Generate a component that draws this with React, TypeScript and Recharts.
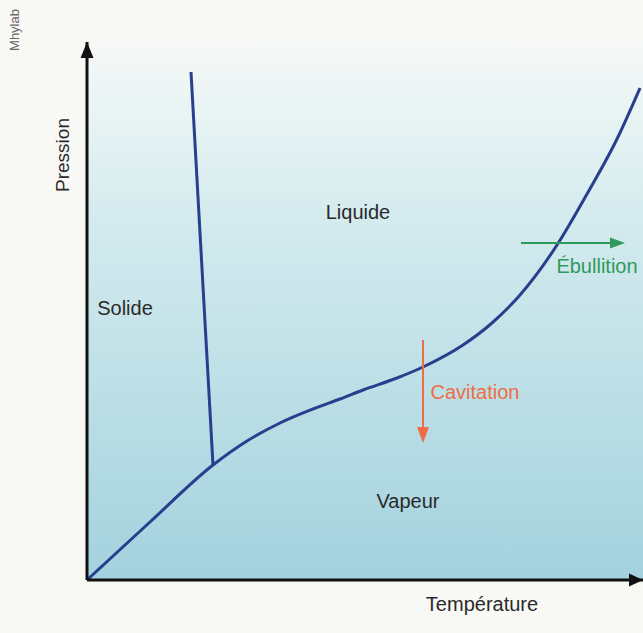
import React from 'react';
import { LineChart, Line, XAxis, YAxis, ReferenceArea, ReferenceDot } from 'recharts';

// Diagramme de phases (axes sans graduations, unités arbitraires)
const vaporT = [0, 63, 126, 160, 193, 226, 253, 276, 310, 336, 376, 405, 433, 470, 500, 530, 553];
const vaporP = [0, 58, 115, 139, 157, 171, 181, 190, 202, 213, 235, 257, 285, 335, 386, 441, 492];

const fusionT = [126, 104];
const fusionP = [115, 508];

const cavitationT = [336, 336];
const cavitationP = [240, 152];

const ebullitionT = [434, 524];
const ebullitionP = [337, 337];

const labels = [
  { text: 'Liquide', x: 271, y: 368, color: '#2a2a2a' },
  { text: 'Solide', x: 38, y: 272, color: '#2a2a2a' },
  { text: 'Vapeur', x: 321, y: 79, color: '#2a2a2a' },
  { text: 'Cavitation', x: 388, y: 188, color: '#ee6d45' },
  { text: 'Ébullition', x: 510, y: 314, color: '#2f9a5c' },
  { text: 'Température', x: 395, y: -24, color: '#2a2a2a' },
];

const toPoints = (xs: number[], ys: number[]) => xs.map((x, i) => ({ x, y: ys[i] }));

const vapor = toPoints(vaporT, vaporP);
const fusion = toPoints(fusionT, fusionP);
const cavitation = toPoints(cavitationT, cavitationP);
const ebullition = toPoints(ebullitionT, ebullitionP);

const FONT = '"Liberation Sans", Arial, sans-serif';
const CURVE = '#283f8e';

const textShape = (text: string, color: string, size: number, angle = 0) => (props: any) => {
  const { cx, cy } = props;
  return (
    <text
      x={cx}
      y={cy}
      fill={color}
      fontSize={size}
      fontFamily={FONT}
      textAnchor="middle"
      dominantBaseline="central"
      transform={angle ? `rotate(${angle} ${cx} ${cy})` : undefined}
    >
      {text}
    </text>
  );
};

const arrowHead = (dir: 'up' | 'down' | 'right', color: string, len: number, half: number) => (props: any) => {
  const { cx, cy } = props;
  let pts = '';
  if (dir === 'up') pts = `${cx - half},${cy + len} ${cx + half},${cy + len} ${cx},${cy}`;
  if (dir === 'down') pts = `${cx - half},${cy - len} ${cx + half},${cy - len} ${cx},${cy}`;
  if (dir === 'right') pts = `${cx - len},${cy - half} ${cx - len},${cy + half} ${cx},${cy}`;
  return <polygon points={pts} fill={color} />;
};

export default function App() {
  return (
    <div style={{ position: 'absolute', left: 0, top: 0, width: 643, height: 633, background: '#f8f8f4' }}>
      <LineChart width={643} height={633} margin={{ top: 42, right: 0, bottom: 23, left: 27 }}>
        <defs>
          <linearGradient id="bgFill" x1="0" y1="0" x2="0" y2="1">
            <stop offset="0%" stopColor="#f6f9f7" />
            <stop offset="35%" stopColor="#d2eaee" />
            <stop offset="100%" stopColor="#a3d2de" />
          </linearGradient>
        </defs>
        <XAxis
          type="number"
          dataKey="x"
          domain={[0, 556]}
          allowDataOverflow
          tick={false}
          tickLine={false}
          axisLine={{ stroke: '#111', strokeWidth: 3 }}
          height={30}
        />
        <YAxis
          type="number"
          dataKey="y"
          domain={[0, 538]}
          allowDataOverflow
          tick={false}
          tickLine={false}
          axisLine={{ stroke: '#111', strokeWidth: 3 }}
          width={60}
        />
        <ReferenceArea x1={0} x2={556} y1={0} y2={538} fill="url(#bgFill)" fillOpacity={1} stroke="none" />

        <Line data={vapor} dataKey="y" type="monotone" stroke={CURVE} strokeWidth={3} dot={false} isAnimationActive={false} />
        <Line data={fusion} dataKey="y" type="linear" stroke={CURVE} strokeWidth={3} dot={false} isAnimationActive={false} />
        <Line data={cavitation} dataKey="y" type="linear" stroke="#ee6d45" strokeWidth={2} dot={false} isAnimationActive={false} />
        <Line data={ebullition} dataKey="y" type="linear" stroke="#2f9a5c" strokeWidth={2} dot={false} isAnimationActive={false} />

        <ReferenceDot x={336} y={137} ifOverflow="visible" shape={arrowHead('down', '#ee6d45', 16, 6)} />
        <ReferenceDot x={538} y={337} ifOverflow="visible" shape={arrowHead('right', '#2f9a5c', 15, 5.5)} />
        <ReferenceDot x={556} y={0} ifOverflow="visible" shape={arrowHead('right', '#111', 14, 6.5)} />
        <ReferenceDot x={0} y={538} ifOverflow="visible" shape={arrowHead('up', '#111', 16, 6.5)} />

        {labels.map((l) => (
          <ReferenceDot key={l.text} x={l.x} y={l.y} ifOverflow="visible" shape={textShape(l.text, l.color, 20)} />
        ))}
        <ReferenceDot x={-25} y={425} ifOverflow="visible" shape={textShape('Pression', '#2a2a2a', 19, -90)} />
        <ReferenceDot x={-73} y={550} ifOverflow="visible" shape={textShape('Mhylab', '#666', 13, -90)} />
      </LineChart>
    </div>
  );
}
